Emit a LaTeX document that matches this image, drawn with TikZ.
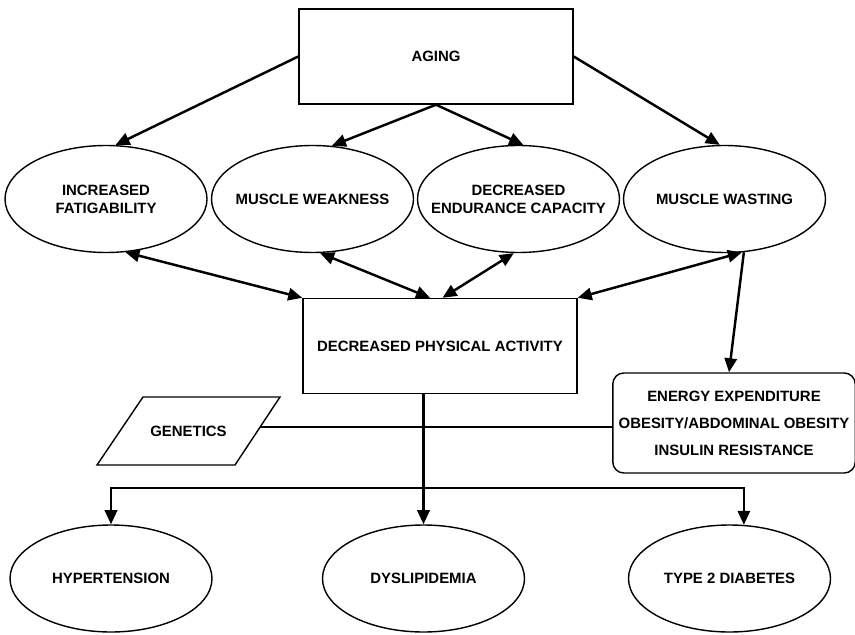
\documentclass[tikz,border=0pt]{standalone}
\usepackage{fontspec}
\setmainfont{Liberation Sans}
\usetikzlibrary{shapes.geometric, arrows.meta, positioning}

% text of fixed size ovals, takes no room
\newcommand{\ovaltxt}[1]{\makebox[0pt]{\raisebox{-3.1pt}[0pt][0pt]{\begin{tabular}{@{}c@{}}#1\end{tabular}}}}

\begin{document}
\begin{tikzpicture}[
    every node/.style={font=\fontsize{8.5}{10}\selectfont\bfseries},
    oval/.style={ellipse, draw, thick, minimum width=4.04cm, minimum height=2.14cm, inner sep=0pt},
    bigbox/.style={rectangle, draw, thick, minimum width=5.48cm, minimum height=1.9cm},
    arr/.style={line width=1.4pt, -{Triangle[length=8pt,width=7pt]}},
    twoarr/.style={line width=1.4pt, {Triangle[length=8pt,width=7pt]}-{Triangle[length=8pt,width=7pt]}}
]
    \useasboundingbox (0,0) rectangle (17.1,-12.68); % page size

    % top box and the four ovals
    \node[bigbox] (aging) at (8.72,-1.13) {AGING};
    \node[oval] (fatig) at (2.12,-3.98) {\ovaltxt{INCREASED\\FATIGABILITY}};
    \node[oval] (weak) at (6.25,-3.98) {\ovaltxt{MUSCLE WEAKNESS}};
    \node[oval] (endur) at (10.37,-3.98) {\ovaltxt{DECREASED\\ENDURANCE CAPACITY}};
    \node[oval] (wast) at (14.49,-3.98) {\ovaltxt{MUSCLE WASTING}};

    % middle row
    \node[bigbox] (dpa) at (8.8,-6.92) {DECREASED PHYSICAL ACTIVITY};
    \node (gen) at (3.77,-8.62) {GENETICS};
    \draw[thick] (2.86,-7.94) -- (5.6,-7.94) -- (4.7,-9.3) -- (1.94,-9.3) -- cycle; % parallelogram
    \coordinate (genr) at (5.2,-8.54); % right edge of parallelogram
    \node[rectangle, draw, thick, rounded corners=0.22cm, minimum width=4.78cm, minimum height=2cm,
          align=center, font=\fontsize{8.5}{15.4}\selectfont\bfseries]
          (energy) at (14.68,-8.46) {ENERGY EXPENDITURE\\OBESITY/ABDOMINAL OBESITY\\INSULIN RESISTANCE};

    % bottom ovals
    \node[oval] (hyper) at (2.22,-11.57) {\ovaltxt{HYPERTENSION}};
    \node[oval] (dysl) at (8.47,-11.57) {\ovaltxt{DYSLIPIDEMIA}};
    \node[oval] (t2d) at (14.59,-11.57) {\ovaltxt{TYPE 2 DIABETES}};

    % aging arrows
    \draw[arr] (aging.west) -- (fatig.80);
    \draw[arr] (aging.south) -- (weak.70);
    \draw[arr] (aging.south) -- (endur.85);
    \draw[arr] (aging.east) -- (wast.95);

    % two way arrows to physical activity
    \draw[twoarr] (fatig.-70) -- (dpa.north west);
    \draw[twoarr] (weak.-82) -- ([xshift=-0.2cm]dpa.north);
    \draw[twoarr] (endur.-95) -- ([xshift=0.05cm]dpa.north);
    \draw[twoarr] (wast.-72) -- (dpa.north east);
    \draw[arr] (wast.-70) -- ([xshift=-0.1cm]energy.north);

    % genetics line and the split to the diseases
    \draw[line width=1.4pt] (genr) -- (genr -| energy.west);
    \draw[arr] (dpa.south -| dysl.north) -- (dysl.north);
    \coordinate (fork) at (dysl.north |- 0,-9.76);
    \draw[arr] (fork) -| (hyper.north);
    \draw[arr] (fork) -| (t2d.75);
\end{tikzpicture}
\end{document}
